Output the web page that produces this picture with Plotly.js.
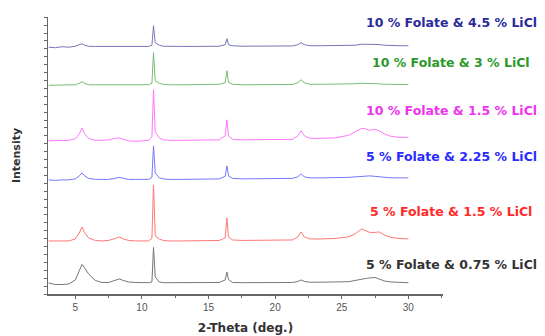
<!DOCTYPE html>
<html>
<head>
<meta charset="utf-8">
<script src="https://cdn.plot.ly/plotly-3.0.1.min.js"></script>
<style>html,body{margin:0;padding:0;background:#fff;}#chart{width:545px;height:336px;}</style>
</head>
<body>
<div id="chart"></div>
<script>
// 2-Theta (deg.)
const twoTheta = [3.0, 3.5, 4.0, 4.5, 5.0, 5.3, 5.5, 5.7, 6.0, 6.5, 7.0, 7.5, 8.0, 8.3, 8.6, 9.0, 9.5, 10.0, 10.5, 10.75, 10.87, 11.0, 11.3, 11.6, 12.0, 13.0, 14.0, 15.0, 15.8, 16.25, 16.38, 16.5, 16.8, 17.5, 18.5, 19.5, 20.5, 21.3, 21.7, 21.95, 22.2, 22.6, 23.5, 24.5, 25.5, 26.0, 26.5, 26.8, 27.1, 27.5, 27.8, 28.2, 28.7, 29.3, 30.0];

// Intensity (stacked, arbitrary units)
const f5_l075 = [11, 9.5, 9.5, 10, 14, 24, 29.5, 26, 20, 13.5, 11.5, 11.5, 13.5, 15, 13.5, 12, 11.5, 11.3, 11.3, 12, 46.5, 17, 12, 11.3, 11.3, 11.3, 11.2, 11.2, 11.5, 14, 22, 14.5, 11.5, 11.3, 11.3, 11.3, 11.3, 11.5, 12.5, 14, 12.5, 11.8, 11.8, 12, 12.3, 13.5, 15, 15.5, 16, 16.5, 15, 13, 12, 11.5, 11.3];
const f5_l15 = [53, 53, 53, 53, 55, 61, 67, 61, 56, 53.5, 53, 53.5, 55.5, 57, 55, 53.5, 53, 53, 53, 55.5, 109, 58, 55, 53.5, 53, 53, 53, 53, 53.5, 56, 76, 57, 54, 53.5, 53.5, 53.5, 53.5, 54, 57, 62, 57, 55, 55, 55.5, 57, 60, 65, 63.5, 61.5, 61.5, 62, 59, 56.5, 55.5, 55];
const f5_l225 = [114, 113.5, 114, 114, 115, 118, 121, 118, 115.5, 114.5, 114.5, 114.5, 115.5, 116.5, 115.5, 114.5, 114.5, 114.5, 114.5, 116.5, 148, 121, 116, 115, 114.5, 114.5, 114.5, 114.5, 115, 117.5, 128, 118, 115.5, 115, 115, 115, 115, 115.5, 117, 120, 117, 116, 116, 116, 116.5, 117, 117.5, 118, 118, 117.5, 117, 116.5, 116, 116, 116];
const f10_l15 = [153, 153, 153, 153.5, 155, 160, 165.5, 160, 155.5, 153.5, 153.5, 154, 155.5, 156, 154.5, 153, 152.5, 153, 153.5, 157, 204, 162, 156, 154, 153.5, 153.5, 153.5, 153.5, 154, 158, 174, 158, 154.5, 154, 154, 154, 154, 154.5, 158, 163, 158, 155.5, 155.5, 156, 158.5, 162, 165.5, 165, 163.5, 164.5, 163, 160, 157.5, 156.5, 156.5];
const f10_l3 = [208.5, 208.5, 208.5, 208.5, 209, 210.5, 212, 210.5, 209, 209, 209, 209, 209, 209.2, 209, 209, 209, 209, 209, 210.5, 241, 213, 210.5, 209.5, 209, 209, 209, 209, 209.5, 211, 223, 211.5, 209.5, 209, 209, 209, 209, 209.3, 211, 214, 211, 209.5, 209.5, 209.5, 209.5, 210, 210.5, 210.5, 210.5, 210.5, 210, 209.5, 209.3, 209.2, 209.2];
const f10_l45 = [246.5, 246, 247, 246.5, 247.5, 249, 250, 248.5, 247.5, 247.3, 247.3, 247.3, 247.5, 247.5, 247.3, 247.3, 247.3, 247.3, 247.3, 248.5, 268, 251, 248.5, 247.5, 247.3, 247.3, 247.3, 247.3, 247.5, 249, 255, 249, 248, 247.5, 247.5, 247.5, 247.5, 247.8, 249, 251, 249, 248, 248, 248, 248, 248.5, 249.5, 249.5, 249.5, 249.5, 249.2, 248.5, 248, 248, 248];

const seriesNames = ["5 % Folate & 0.75 % LiCl", "5 % Folate & 1.5 % LiCl", "5 % Folate & 2.25 % LiCl", "10 % Folate & 1.5 % LiCl", "10 % Folate & 3 % LiCl", "10 % Folate & 4.5 % LiCl"];
const seriesValues = [f5_l075, f5_l15, f5_l225, f10_l15, f10_l3, f10_l45];
const labelLevels = [29, 82.3, 137.3, 183, 231.3, 271.3];
const xTicks = [5, 10, 15, 20, 25, 30];

const lineColors = ["#777777", "#ff7777", "#7777ff", "#ff77ff", "#77bb77", "#7777bb"];
const textColors = ["#333333", "#ff2a2a", "#2a2aff", "#ee33ee", "#2a992a", "#2a2a9a"];

const traces = seriesValues.map((ys, i) => ({
  x: twoTheta, y: ys, type: "scatter", mode: "lines",
  name: seriesNames[i], showlegend: false,
  line: {color: lineColors[i], width: 1}
}));

const annotations = seriesNames.map((t, i) => ({
  text: "<b>" + t + "</b>", xref: "paper", yref: "y",
  x: 1.0203, y: labelLevels[i], xanchor: "center", yanchor: "middle",
  showarrow: false,
  font: {family: "DejaVu Sans, Arial, sans-serif", size: 12.5, color: textColors[i]}
}));

const layout = {
  width: 545, height: 336,
  margin: {l: 48, r: 102, t: 17, b: 42, pad: 0},
  paper_bgcolor: "#fff", plot_bgcolor: "#fff",
  showlegend: false,
  xaxis: {
    range: [2.95, 32.6], tickvals: xTicks, ticktext: xTicks.map(String),
    ticks: "outside", ticklen: 3, tickwidth: 1, tickcolor: "#666",
    showline: true, linecolor: "#666", linewidth: 1.5, showgrid: false, zeroline: false,
    minor: {tickvals: [7.5, 12.5, 17.5, 22.5, 27.5, 32.5], ticks: "outside", ticklen: 2, tickcolor: "#666"},
    tickfont: {family: "Arial, sans-serif", size: 10, color: "#555"},
    title: {text: "<b>2-Theta (deg.)</b>", standoff: 12, font: {family: "DejaVu Sans, Arial, sans-serif", size: 12, color: "#333"}}
  },
  yaxis: {
    range: [0, 276.7], tick0: 0, dtick: 7.9,
    ticks: "outside", ticklen: 3, tickwidth: 1, tickcolor: "#666",
    showticklabels: false,
    showline: true, linecolor: "#666", linewidth: 1.5, showgrid: false, zeroline: false,
    title: {text: "<b>Intensity</b>", standoff: 20, font: {family: "DejaVu Sans, Arial, sans-serif", size: 11, color: "#333"}}
  },
  annotations: annotations
};

Plotly.newPlot("chart", traces, layout, {staticPlot: true, displayModeBar: false});
</script>
</body>
</html>
